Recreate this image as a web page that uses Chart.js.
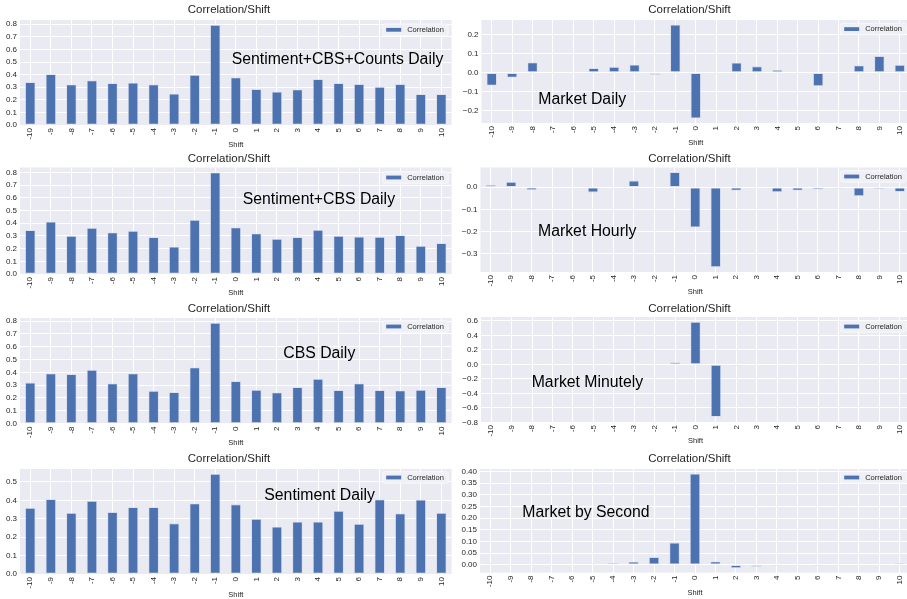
<!DOCTYPE html>
<html>
<head>
<meta charset="utf-8">
<script src="https://cdn.jsdelivr.net/npm/chart.js@4.4.1/dist/chart.umd.min.js"></script>
<style>
  html, body { margin: 0; padding: 0; background: #ffffff; }
  #stage { position: relative; width: 907px; height: 599px; overflow: hidden; background: #ffffff; }
  #stage canvas { position: absolute; }
</style>
</head>
<body>
<div id="stage"></div>
<script>
// Shift values on the x axis (same for every panel)
const shifts = ['-10','-9','-8','-7','-6','-5','-4','-3','-2','-1','0','1','2','3','4','5','6','7','8','9','10'];

// Correlation per shift, one series per panel
const sentimentCbsCountsDaily = [0.340,0.404,0.322,0.354,0.332,0.335,0.322,0.248,0.398,0.794,0.377,0.285,0.264,0.282,0.364,0.332,0.325,0.303,0.325,0.245,0.245];
const marketDaily            = [-0.068,-0.026,0.054,-0.004,0.001,0.023,0.030,0.042,-0.012,0.252,-0.240,0.004,0.052,0.033,0.014,0.002,-0.070,0.003,0.038,0.087,0.040];
const sentimentCbsDaily      = [0.346,0.412,0.300,0.364,0.327,0.340,0.290,0.215,0.426,0.800,0.367,0.319,0.277,0.290,0.348,0.300,0.295,0.293,0.306,0.221,0.242];
const marketHourly           = [0.011,0.024,-0.012,-0.002,0.002,-0.023,0.002,0.030,-0.003,0.068,-0.180,-0.359,-0.015,-0.003,-0.021,-0.015,-0.010,-0.006,-0.039,-0.009,-0.020];
const cbsDaily               = [0.320,0.391,0.385,0.419,0.313,0.391,0.255,0.245,0.438,0.786,0.331,0.263,0.242,0.284,0.349,0.260,0.313,0.260,0.258,0.263,0.284];
const marketMinutely         = [0.000,-0.006,0.002,0.002,0.003,0.003,0.003,0.002,0.002,0.030,0.586,-0.722,-0.015,0.010,0.005,0.002,0.002,0.004,0.004,0.003,0.010];
const sentimentDaily         = [0.358,0.406,0.331,0.396,0.336,0.363,0.363,0.275,0.383,0.543,0.378,0.299,0.257,0.284,0.284,0.342,0.272,0.405,0.329,0.403,0.331];
const marketBySecond         = [0.005,-0.001,-0.001,-0.001,0.000,0.004,0.008,0.013,0.033,0.095,0.390,0.014,-0.014,-0.009,-0.004,-0.001,-0.004,-0.001,0.000,0.002,0.007];

// Y tick values per panel
const ticksDaily      = [0.0,0.1,0.2,0.3,0.4,0.5,0.6,0.7,0.8];
const ticksMktDaily   = [-0.2,-0.1,0.0,0.1,0.2];
const ticksMktHourly  = [-0.3,-0.2,-0.1,0.0];
const ticksMktMinute  = [-0.8,-0.6,-0.4,-0.2,0.0,0.2,0.4,0.6];
const ticksSentiment  = [0.0,0.1,0.2,0.3,0.4,0.5];
const ticksMktSecond  = [0.00,0.05,0.10,0.15,0.20,0.25,0.30,0.35,0.40];

const panelTitle = 'Correlation/Shift';
const seriesName = 'Correlation';
const axisName = 'Shift';

// Panel content
const panels = [
  { values: sentimentCbsCountsDaily, ticks: ticksDaily,     yMin: 0,      yMax: 0.834, dec: 1, note: 'Sentiment+CBS+Counts Daily' },
  { values: marketDaily,             ticks: ticksMktDaily,  yMin: -0.265, yMax: 0.277, dec: 1, note: 'Market Daily' },
  { values: sentimentCbsDaily,       ticks: ticksDaily,     yMin: 0,      yMax: 0.840, dec: 1, note: 'Sentiment+CBS Daily' },
  { values: marketHourly,            ticks: ticksMktHourly, yMin: -0.381, yMax: 0.089, dec: 1, note: 'Market Hourly' },
  { values: cbsDaily,                ticks: ticksDaily,     yMin: 0,      yMax: 0.825, dec: 1, note: 'CBS Daily' },
  { values: marketMinutely,          ticks: ticksMktMinute, yMin: -0.795, yMax: 0.655, dec: 1, note: 'Market Minutely' },
  { values: sentimentDaily,          ticks: ticksSentiment, yMin: 0,      yMax: 0.570, dec: 1, note: 'Sentiment Daily' },
  { values: marketBySecond,          ticks: ticksMktSecond, yMin: -0.033, yMax: 0.410, dec: 2, note: 'Market by Second' }
];

// Panel placement (page pixels): canvas origin/width, plot area [left,right,top,bottom],
// title centre, note baseline start, legend box top-left, axis title centre y
const layouts = [
  { x: 0,   y: 0,   w: 454, area: [20, 452, 20, 125],      titleX: 229,   titleY: 10,    note: [231.7, 64.3],  legend: [382.7, 24],    shiftY: 145   },
  { x: 454, y: 0,   w: 460, area: [481.5, 910, 20, 123],   titleX: 689.5, titleY: 10,    note: [538.3, 104],   legend: [840.7, 23.3],  shiftY: 143.3 },
  { x: 0,   y: 150, w: 454, area: [20, 452, 167.5, 274],   titleX: 229,   titleY: 158.5, note: [242.7, 204],   legend: [382.7, 171.7], shiftY: 293.3 },
  { x: 454, y: 150, w: 460, area: [480.5, 910, 167.5, 272],titleX: 689.5, titleY: 158.5, note: [538, 236],     legend: [840.7, 170.7], shiftY: 291.7 },
  { x: 0,   y: 300, w: 454, area: [20, 452, 318, 423.5],   titleX: 229,   titleY: 308.5, note: [283.3, 358.3], legend: [382.7, 320.7], shiftY: 443.3 },
  { x: 454, y: 300, w: 460, area: [481, 910, 317, 422],    titleX: 689.5, titleY: 308.5, note: [531.7, 386.7], legend: [840.7, 320.7], shiftY: 440.7 },
  { x: 0,   y: 450, w: 454, area: [20, 452, 469, 574],     titleX: 229,   titleY: 459,   note: [264.3, 500],   legend: [382.7, 471.7], shiftY: 594.5 },
  { x: 454, y: 450, w: 460, area: [480, 910, 469, 572.5],  titleX: 689.5, titleY: 459,   note: [522.3, 516.7], legend: [840.7, 471.7], shiftY: 592.7 }
];

const FONT = "'Liberation Sans', Arial, Helvetica, sans-serif";
const BAR = '#4C72B0';
const CANVAS_H = 150;

Chart.defaults.font.family = FONT;
Chart.defaults.color = '#262626';

// Axes background, panel title, annotation text and legend box
const panelDecor = {
  id: 'panelDecor',
  beforeDraw(chart) {
    const { ctx, chartArea: a } = chart;
    ctx.save();
    ctx.fillStyle = '#EAEAF2';
    ctx.fillRect(a.left, a.top, a.right - a.left, a.bottom - a.top);
    ctx.restore();
  },
  afterDraw(chart, args, o) {
    const ctx = chart.ctx;
    ctx.save();
    // title
    ctx.fillStyle = '#262626';
    ctx.font = '11.5px ' + FONT;
    ctx.textAlign = 'center';
    ctx.textBaseline = 'middle';
    ctx.fillText(o.title, o.titleX, o.titleY);
    // annotation
    ctx.fillStyle = '#000000';
    ctx.font = '15.8px ' + FONT;
    ctx.textAlign = 'left';
    ctx.textBaseline = 'alphabetic';
    ctx.fillText(o.note, o.noteX, o.noteY);
    // legend
    const lx = o.legendX, ly = o.legendY, lw = 65.5, lh = 11.5;
    ctx.beginPath();
    if (ctx.roundRect) ctx.roundRect(lx, ly, lw, lh, 2); else ctx.rect(lx, ly, lw, lh);
    ctx.fillStyle = 'rgba(240,240,246,0.9)';
    ctx.fill();
    ctx.strokeStyle = '#FAFAFC';
    ctx.lineWidth = 0.8;
    ctx.stroke();
    ctx.fillStyle = BAR;
    ctx.fillRect(lx + 3.5, ly + 3.9, 15, 3.8);
    ctx.fillStyle = '#262626';
    ctx.font = '7.5px ' + FONT;
    ctx.textBaseline = 'middle';
    ctx.fillText(o.series, lx + 24.5, ly + lh / 2 + 0.3);
    ctx.restore();
  }
};

const fmt = dec => v => (v < 0 ? '\u2212' : '') + Math.abs(v).toFixed(dec);

const stage = document.getElementById('stage');

panels.forEach((p, i) => {
  const L = layouts[i];
  const cvs = document.createElement('canvas');
  cvs.width = L.w;
  cvs.height = CANVAS_H;
  cvs.style.left = L.x + 'px';
  cvs.style.top = L.y + 'px';
  cvs.style.width = L.w + 'px';
  cvs.style.height = CANVAS_H + 'px';
  stage.appendChild(cvs);

  const relLeft = L.area[0] - L.x;
  const relRight = L.area[1] - L.x;
  const relTop = L.area[2] - L.y;
  const relBottom = L.area[3] - L.y;
  const axisTitleSize = 7.5;
  const axisTitlePad = CANVAS_H - (axisTitleSize * 1.2) / 2 - (L.shiftY - L.y);

  new Chart(cvs, {
    type: 'bar',
    data: {
      labels: shifts,
      datasets: [{
        label: seriesName,
        data: p.values,
        backgroundColor: BAR,
        borderColor: 'rgba(200,210,232,0.75)',
        borderWidth: 0.8,
        borderSkipped: false,
        categoryPercentage: 1,
        barPercentage: 0.5
      }]
    },
    options: {
      responsive: false,
      animation: false,
      devicePixelRatio: 1,
      events: [],
      layout: { padding: { left: 0, top: relTop, right: L.w - relRight, bottom: 0 } },
      plugins: {
        legend: { display: false },
        tooltip: { enabled: false },
        title: { display: false },
        panelDecor: {
          title: panelTitle,
          titleX: L.titleX - L.x, titleY: L.titleY - L.y,
          note: p.note, noteX: L.note[0] - L.x, noteY: L.note[1] - L.y,
          legendX: L.legend[0] - L.x, legendY: L.legend[1] - L.y,
          series: seriesName
        }
      },
      scales: {
        x: {
          offset: true,
          grid: { color: '#ffffff', lineWidth: 1, offset: false, drawTicks: false },
          border: { display: false },
          ticks: { autoSkip: false, minRotation: 90, maxRotation: 90, padding: 3, color: '#262626', font: { size: 8 } },
          title: { display: true, text: axisName, color: '#262626', font: { size: axisTitleSize }, padding: { top: 0, bottom: axisTitlePad } },
          afterFit(s) { s.height = CANVAS_H - relBottom; }
        },
        y: {
          min: p.yMin,
          max: p.yMax,
          grid: { color: '#ffffff', lineWidth: 1, drawTicks: false },
          border: { display: false },
          ticks: { padding: 3, color: '#262626', font: { size: 8 }, callback: fmt(p.dec) },
          afterBuildTicks(s) { s.ticks = p.ticks.map(v => ({ value: v })); },
          afterFit(s) { s.width = relLeft; }
        }
      }
    },
    plugins: [panelDecor]
  });
});
</script>
</body>
</html>
